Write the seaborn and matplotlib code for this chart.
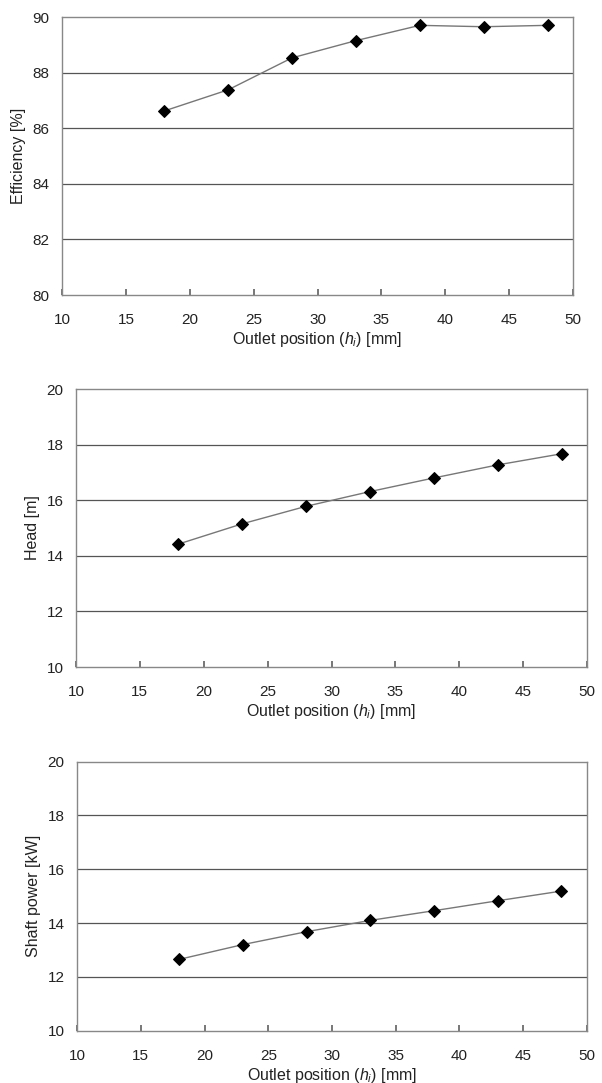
import matplotlib
matplotlib.use("Agg")
import matplotlib.pyplot as plt
import seaborn as sns
import pandas as pd

outlet_position = [18, 23, 28, 33, 38, 43, 48]
efficiency = [86.62, 87.38, 88.53, 89.15, 89.70, 89.65, 89.70]
head = [14.42, 15.15, 15.78, 16.31, 16.80, 17.27, 17.67]
shaft_power = [12.65, 13.20, 13.68, 14.10, 14.46, 14.83, 15.19]

x_ticks = [10, 15, 20, 25, 30, 35, 40, 45, 50]
xlabel = r"Outlet position ($h_i$) [mm]"

panels = [
    ("Efficiency [%]", efficiency, (80, 90), [80, 82, 84, 86, 88, 90]),
    ("Head [m]", head, (10, 20), [10, 12, 14, 16, 18, 20]),
    ("Shaft power [kW]", shaft_power, (10, 20), [10, 12, 14, 16, 18, 20]),
]

sns.set_theme(style="white")
plt.rcParams['font.family'] = ['Liberation Sans', 'DejaVu Sans']
plt.rcParams['mathtext.fontset'] = 'custom'
plt.rcParams['mathtext.it'] = 'Liberation Sans:italic'
plt.rcParams['mathtext.rm'] = 'Liberation Sans'

fig = plt.figure(figsize=(6.02, 10.83), dpi=100)
positions = [
    [0.103, 0.7276, 0.849, 0.2567],
    [0.1262, 0.3841, 0.849, 0.2567],
    [0.128, 0.0483, 0.847, 0.2484],
]

txt = "#222222"
for (ylab, vals, ylim, yt), pos in zip(panels, positions):
    ax = fig.add_axes(pos)
    df = pd.DataFrame({"x": outlet_position, "y": vals})
    sns.lineplot(data=df, x="x", y="y", ax=ax, color="#777777", linewidth=1.0,
                 marker="D", markersize=6.5, markerfacecolor="black",
                 markeredgecolor="black")
    ax.set_xlim(10, 50)
    ax.set_ylim(*ylim)
    ax.set_xticks(x_ticks)
    ax.set_yticks(yt)
    for y in yt[1:-1]:
        ax.axhline(y, color="#555555", linewidth=0.9, zorder=0)
    for s in ax.spines.values():
        s.set_color("#888888")
        s.set_linewidth(1.0)
    ax.tick_params(axis="x", direction="in", length=4, color="#666666",
                   labelsize=11, labelcolor=txt, pad=13, bottom=True)
    ax.tick_params(axis="y", length=0, labelsize=11, labelcolor=txt, pad=9)
    ax.set_xlabel(xlabel, fontsize=11.5, color=txt, labelpad=2)
    ax.set_ylabel(ylab, fontsize=11.5, color=txt, labelpad=5)

fig.savefig("out.png", dpi=100)
